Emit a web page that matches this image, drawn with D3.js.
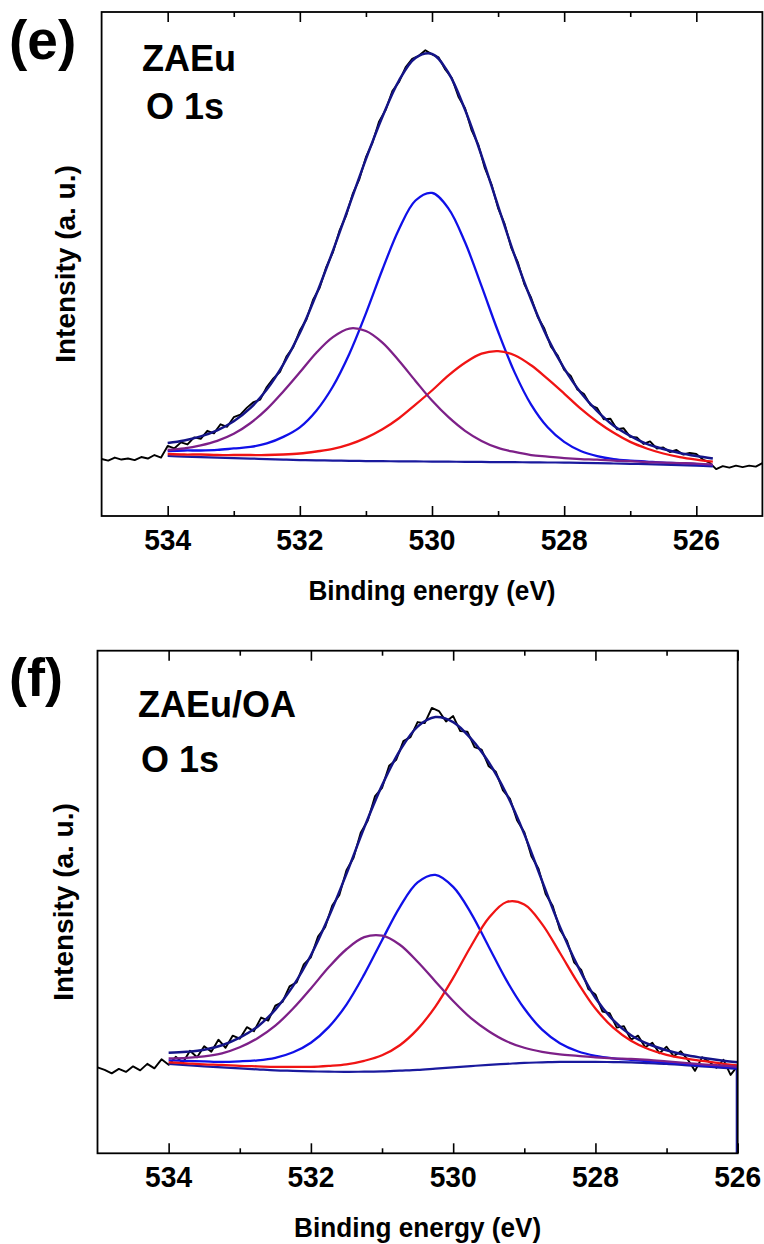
<!DOCTYPE html>
<html>
<head>
<meta charset="utf-8">
<script src="https://cdn.jsdelivr.net/npm/d3@7"></script>
<style>
  body { margin: 0; background: #fff; }
  svg { display: block; }
  text { font-family: "Liberation Sans", Arial, Helvetica, sans-serif; font-weight: bold; fill: #000; }
</style>
</head>
<body>
<svg id="chart" width="764" height="1244"></svg>
<script>
// ---------- axis ticks (binding energy, eV) ----------
const majorTicksE = [534, 532, 530, 528, 526];
const minorTicksE = [533, 531, 529, 527];
const majorTicksF = [534, 532, 530, 528, 526];
const minorTicksF = [533, 531, 529, 527];

// ---------- (e) ZAEu, O 1s: fitted curves (intensity, a.u.) ----------
const fitEnergyE = [534, 533.75, 533.5, 533.25, 533, 532.75, 532.5, 532.25, 532, 531.75, 531.5, 531.25,
  531, 530.75, 530.5, 530.25, 530, 529.75, 529.5, 529.25, 529, 528.75, 528.5, 528.25, 528, 527.75,
  527.5, 527.25, 527, 526.75, 526.5, 526.25, 526, 525.75];
const backgroundE = [11.9, 11.8, 11.7, 11.6, 11.5, 11.4, 11.3, 11.2, 11.1, 11.05, 11.0, 10.95, 10.9,
  10.87, 10.85, 10.82, 10.8, 10.78, 10.75, 10.72, 10.7, 10.68, 10.65, 10.62, 10.6, 10.55, 10.5, 10.42,
  10.35, 10.28, 10.2, 10.1, 10.0, 9.85];
const peakMidE = [12.9, 13.0, 13.0, 13.1, 13.4, 13.7, 14.4, 15.7, 17.6, 20.9, 25.7, 32.2, 40.2, 48.9,
  56.9, 62.6, 64.1, 61.0, 54.3, 45.6, 36.6, 28.5, 22.1, 17.6, 14.7, 12.9, 11.9, 11.3, 11.0, 10.8, 10.6,
  10.5, 10.3, 10.1];
const peakHighE = [13.1, 13.4, 14.0, 14.9, 16.3, 18.4, 21.2, 24.7, 28.5, 32.4, 35.5, 37.2, 36.7, 34.4,
  30.8, 26.8, 22.9, 19.6, 16.9, 14.9, 13.5, 12.7, 12.1, 11.8, 11.5, 11.3, 11.2, 11.0, 10.9, 10.7, 10.6,
  10.5, 10.4, 10.2];
const peakLowE = [12.3, 12.2, 12.2, 12.1, 12.1, 12.1, 12.1, 12.2, 12.4, 12.8, 13.3, 14.2, 15.5, 17.2,
  19.4, 22.1, 24.9, 27.9, 30.4, 32.2, 32.7, 31.9, 29.9, 27.2, 24.3, 21.3, 18.7, 16.5, 14.7, 13.4, 12.4,
  11.7, 11.2, 10.8];
const envelopeE = [14.5, 15.0, 15.8, 17.0, 18.8, 21.4, 25.1, 30.1, 36.3, 44.0, 52.6, 61.7, 70.8, 79.2,
  86.4, 90.9, 91.7, 87.9, 80.6, 71.5, 61.5, 51.7, 42.9, 35.3, 29.3, 24.5, 20.8, 17.9, 15.9, 14.3, 13.3,
  12.5, 11.9, 11.4];

// ---------- (e) measured spectrum ----------
const rawEnergyE = [535.0, 534.9, 534.8, 534.7, 534.6, 534.5, 534.4, 534.3, 534.2, 534.1,
  534.0, 533.9, 533.8, 533.7, 533.6, 533.5, 533.4, 533.3, 533.2, 533.1,
  533.0, 532.9, 532.8, 532.7, 532.6, 532.5, 532.4, 532.3, 532.2, 532.1,
  532.0, 531.9, 531.8, 531.7, 531.6, 531.5, 531.4, 531.3, 531.2, 531.1,
  531.0, 530.9, 530.8, 530.7, 530.6, 530.5, 530.4, 530.3, 530.2, 530.1,
  530.0, 529.9, 529.8, 529.7, 529.6, 529.5, 529.4, 529.3, 529.2, 529.1,
  529.0, 528.9, 528.8, 528.7, 528.6, 528.5, 528.4, 528.3, 528.2, 528.1,
  528.0, 527.9, 527.8, 527.7, 527.6, 527.5, 527.4, 527.3, 527.2, 527.1,
  527.0, 526.9, 526.8, 526.7, 526.6, 526.5, 526.4, 526.3, 526.2, 526.1,
  526.0, 525.9, 525.8, 525.7, 525.6, 525.5, 525.4, 525.3, 525.2, 525.1, 525.0];
const rawCountsE = [11.3, 11.0, 11.6, 11.2, 11.4, 11.1, 11.7, 11.4, 12.1, 11.6,
  13.9, 13.4, 14.6, 14.2, 15.6, 15.3, 16.9, 16.4, 18.2, 17.7,
  19.6, 20.1, 21.5, 22.6, 23.1, 25.6, 27.3, 28.6, 31.7, 33.5,
  36.8, 39.0, 42.9, 45.3, 49.4, 52.3, 56.6, 59.6, 63.9, 66.8,
  71.2, 74.1, 78.3, 80.6, 84.3, 86.1, 89.0, 90.7, 91.3, 92.4,
  91.6, 91.0, 88.6, 86.9, 83.2, 80.9, 76.5, 73.7, 69.0, 65.8,
  61.1, 57.9, 53.2, 50.3, 45.9, 43.3, 39.5, 37.2, 33.6, 31.9,
  29.0, 27.8, 25.1, 24.2, 22.0, 21.4, 19.2, 19.3, 17.2, 17.4,
  15.7, 15.6, 14.3, 14.8, 13.4, 13.6, 12.7, 13.1, 12.2, 12.5,
  12.3, 11.2, 10.6, 9.3, 9.9, 9.6, 10.0, 9.7, 10.0, 9.8, 10.5];

// ---------- (f) ZAEu/OA, O 1s: fitted curves (intensity, a.u.) ----------
const fitEnergyF = [534, 533.75, 533.5, 533.25, 533, 532.75, 532.5, 532.25, 532, 531.75, 531.5, 531.25,
  531, 530.75, 530.5, 530.25, 530, 529.75, 529.5, 529.25, 529, 528.75, 528.5, 528.25, 528, 527.75,
  527.5, 527.25, 527, 526.75, 526.5, 526.25, 526];
const backgroundF = [17.8, 17.55, 17.3, 17.1, 16.9, 16.7, 16.5, 16.4, 16.3, 16.25, 16.2, 16.25, 16.3,
  16.45, 16.6, 16.85, 17.1, 17.35, 17.6, 17.8, 18.0, 18.1, 18.2, 18.2, 18.2, 18.15, 18.1, 17.95, 17.8,
  17.55, 17.3, 17.05, 16.8];
const backgroundEndF = [16.8, 0];
const peakMidF = [18.5, 18.4, 18.3, 18.2, 18.3, 18.5, 19.0, 20.1, 22.0, 25.1, 29.6, 35.6, 42.4, 49.0,
  53.9, 55.4, 53.0, 47.8, 41.1, 34.4, 28.8, 24.6, 21.9, 20.3, 19.4, 18.9, 18.6, 18.3, 18.1, 17.8, 17.5,
  17.3, 17.0];
const peakHighF = [18.9, 19.0, 19.3, 19.9, 21.1, 22.9, 25.4, 28.8, 32.8, 37.0, 40.6, 43.0, 43.3, 41.5,
  38.1, 34.2, 30.3, 26.9, 24.3, 22.3, 21.0, 20.2, 19.7, 19.4, 19.1, 18.9, 18.8, 18.6, 18.3, 18.0, 17.7,
  17.5, 17.2];
const peakLowF = [18.1, 17.9, 17.7, 17.6, 17.4, 17.3, 17.2, 17.2, 17.2, 17.4, 17.7, 18.4, 19.5, 21.5,
  24.7, 29.2, 34.9, 41.2, 46.8, 50.0, 49.5, 45.6, 39.9, 34.0, 28.8, 25.0, 22.4, 20.7, 19.6, 18.9, 18.4,
  17.9, 17.5];
const envelopeF = [20.0, 20.2, 20.6, 21.5, 23.0, 25.2, 28.6, 33.3, 39.4, 47.0, 55.6, 64.8, 73.2, 80.1,
  84.9, 86.8, 85.8, 82.5, 77.8, 71.5, 63.5, 54.2, 45.1, 37.3, 30.9, 26.5, 23.5, 21.7, 20.5, 19.6, 19.0,
  18.5, 18.1];

// ---------- (f) measured spectrum ----------
const rawEnergyF = [535.0, 534.9, 534.8, 534.7, 534.6, 534.5, 534.4, 534.3, 534.2, 534.1,
  534.0, 533.9, 533.8, 533.7, 533.6, 533.5, 533.4, 533.3, 533.2, 533.1,
  533.0, 532.9, 532.8, 532.7, 532.6, 532.5, 532.4, 532.3, 532.2, 532.1,
  532.0, 531.9, 531.8, 531.7, 531.6, 531.5, 531.4, 531.3, 531.2, 531.1,
  531.0, 530.9, 530.8, 530.7, 530.6, 530.5, 530.4, 530.3, 530.2, 530.1,
  530.0, 529.9, 529.8, 529.7, 529.6, 529.5, 529.4, 529.3, 529.2, 529.1,
  529.0, 528.9, 528.8, 528.7, 528.6, 528.5, 528.4, 528.3, 528.2, 528.1,
  528.0, 527.9, 527.8, 527.7, 527.6, 527.5, 527.4, 527.3, 527.2, 527.1,
  527.0, 526.9, 526.8, 526.7, 526.6, 526.5, 526.4, 526.3, 526.2, 526.1, 526.0];
const rawCountsF = [17.1, 16.6, 15.9, 16.8, 16.2, 17.3, 16.5, 17.8, 16.9, 18.7,
  17.6, 19.2, 18.0, 20.4, 19.1, 21.3, 20.2, 22.6, 21.0, 23.4,
  22.8, 25.1, 24.3, 27.0, 26.4, 29.4, 30.1, 33.2, 34.0, 37.6,
  39.0, 43.1, 45.0, 49.3, 51.4, 56.3, 58.8, 63.8, 66.2, 71.0,
  72.7, 77.1, 78.3, 82.0, 82.8, 85.8, 85.6, 88.6, 88.0, 85.9,
  87.0, 84.0, 83.9, 80.8, 80.3, 77.0, 75.9, 72.2, 70.5, 66.2,
  63.9, 59.1, 56.6, 51.6, 49.2, 44.5, 42.3, 38.0, 36.5, 32.7,
  31.6, 28.2, 27.9, 25.0, 25.3, 22.6, 23.4, 21.1, 22.0, 19.9,
  21.2, 19.3, 20.3, 18.6, 16.4, 19.1, 18.2, 17.0, 18.6, 15.6, 17.4];

// ---------- colours ----------
const colors = {
  raw: "#000000",
  envelope: "#141488",
  background: "#1a1a9e",
  mid: "#1010e8",
  high: "#7d2088",
  low: "#f01414"
};

// ---------- panel layout ----------
const panels = [
  {
    id: "e", letter: "(e)", sample: "ZAEu", core: "O 1s",
    xDomain: [535, 525], left: 101.6, right: 762.4, top: 12, bottom: 516,
    major: majorTicksE, minor: minorTicksE,
    fitEnergy: fitEnergyE, background: backgroundE, backgroundEnd: null,
    mid: peakMidE, high: peakHighE, low: peakLowE, envelope: envelopeE,
    rawEnergy: rawEnergyE, raw: rawCountsE,
    letterPos: [9, 59], letterSize: 55, samplePos: [142, 71], corePos: [146, 119], yLabelX: 75
  },
  {
    id: "f", letter: "(f)", sample: "ZAEu/OA", core: "O 1s",
    xDomain: [535, 526], left: 97.5, right: 737.7, top: 650.7, bottom: 1153.3,
    major: majorTicksF, minor: minorTicksF,
    fitEnergy: fitEnergyF, background: backgroundF, backgroundEnd: backgroundEndF,
    mid: peakMidF, high: peakHighF, low: peakLowF, envelope: envelopeF,
    rawEnergy: rawEnergyF, raw: rawCountsF,
    letterPos: [9, 696], letterSize: 54, samplePos: [138, 717], corePos: [141, 772], yLabelX: 73
  }
];

const svg = d3.select("#chart");
svg.append("rect").attr("width", 764).attr("height", 1244).attr("fill", "#fff");

panels.forEach(p => {
  const x = d3.scaleLinear().domain(p.xDomain).range([p.left, p.right]);
  const y = d3.scaleLinear().domain([0, 100]).range([p.bottom, p.top]);
  const g = svg.append("g").attr("class", "panel-" + p.id);

  // clip region = plot frame
  g.append("clipPath").attr("id", "clip-" + p.id)
    .append("rect")
    .attr("x", p.left).attr("y", p.top)
    .attr("width", p.right - p.left).attr("height", p.bottom - p.top);

  const plot = g.append("g").attr("clip-path", `url(#clip-${p.id})`);

  const rawLine = d3.line()
    .x((d, i) => x(p.rawEnergy[i]))
    .y(d => y(d))
    .curve(d3.curveLinear);

  const fitLine = d3.line()
    .x((d, i) => x(p.fitEnergy[i]))
    .y(d => y(d))
    .curve(d3.curveCatmullRom.alpha(0.5));

  // measured spectrum
  plot.append("path").datum(p.raw)
    .attr("d", rawLine)
    .attr("fill", "none").attr("stroke", colors.raw)
    .attr("stroke-width", 1.9).attr("stroke-linejoin", "round");

  // fit envelope
  plot.append("path").datum(p.envelope)
    .attr("d", fitLine)
    .attr("fill", "none").attr("stroke", colors.envelope).attr("stroke-width", 2.5);

  // background
  plot.append("path").datum(p.background)
    .attr("d", fitLine)
    .attr("fill", "none").attr("stroke", colors.background).attr("stroke-width", 2.2);

  if (p.backgroundEnd) {
    const lastE = p.fitEnergy[p.fitEnergy.length - 1];
    plot.append("path").datum(p.backgroundEnd)
      .attr("d", d3.line().x(() => x(lastE) - 1).y(d => y(d)))
      .attr("fill", "none").attr("stroke", colors.background).attr("stroke-width", 2);
  }

  // components
  [["mid", colors.mid], ["low", colors.low], ["high", colors.high]].forEach(([k, c]) => {
    plot.append("path").datum(p[k])
      .attr("d", fitLine)
      .attr("fill", "none").attr("stroke", c).attr("stroke-width", 2.3);
  });

  // frame
  g.append("rect")
    .attr("x", p.left).attr("y", p.top)
    .attr("width", p.right - p.left).attr("height", p.bottom - p.top)
    .attr("fill", "none").attr("stroke", "#000").attr("stroke-width", 1.8);

  // inward ticks, top and bottom
  const tickAxis = (axisFn, yPos, values, size) => {
    const a = g.append("g").attr("transform", `translate(0,${yPos})`)
      .call(axisFn(x).tickValues(values).tickSize(-size).tickFormat(""));
    a.select(".domain").remove();
    a.selectAll(".tick line").attr("stroke", "#000").attr("stroke-width", 1.6);
  };
  tickAxis(d3.axisBottom, p.bottom, p.major, 10);
  tickAxis(d3.axisBottom, p.bottom, p.minor, 5);
  tickAxis(d3.axisTop, p.top, p.major, 10);
  tickAxis(d3.axisTop, p.top, p.minor, 5);

  // tick labels
  g.selectAll(".xtick-label").data(p.major).enter().append("text")
    .attr("class", "xtick-label")
    .attr("transform", d => `translate(${x(d)},${p.bottom + 34}) scale(0.94,1)`)
    .attr("text-anchor", "middle")
    .attr("font-size", 30)
    .text(d => d);

  // axis titles
  g.append("text")
    .attr("transform", `translate(${(p.left + p.right) / 2},${p.bottom + 83.5}) scale(0.935,1)`)
    .attr("text-anchor", "middle").attr("font-size", 28)
    .text("Binding energy (eV)");

  g.append("text")
    .attr("transform", `translate(${p.yLabelX},${(p.top + p.bottom) / 2}) rotate(-90)`)
    .attr("text-anchor", "middle").attr("font-size", 28)
    .text("Intensity (a. u.)");

  // panel letter and annotations
  g.append("text").attr("x", p.letterPos[0]).attr("y", p.letterPos[1])
    .attr("font-size", p.letterSize).text(p.letter);
  g.append("text").attr("x", p.samplePos[0]).attr("y", p.samplePos[1])
    .attr("font-size", 36).text(p.sample);
  g.append("text").attr("x", p.corePos[0]).attr("y", p.corePos[1])
    .attr("font-size", 36).text(p.core);
});
</script>
</body>
</html>
